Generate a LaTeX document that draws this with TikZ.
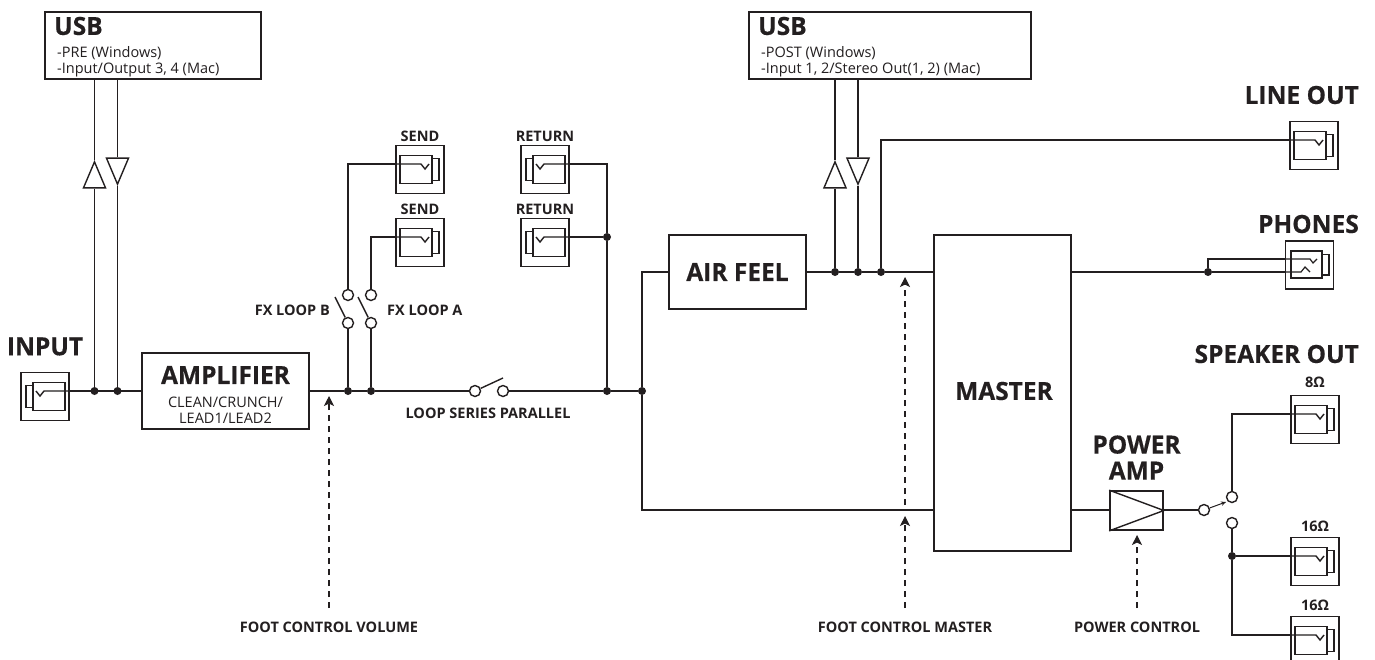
\documentclass[tikz,border=0pt]{standalone}
\usepackage{fontspec}
\setmainfont{Open Sans}
\newfontfamily\heavy{Open Sans}[FakeStretch=0.98, BoldFeatures={FakeBold=0.4}]
\usepackage{tikz}
\usetikzlibrary{shapes, arrows.meta, positioning}
\definecolor{ink}{HTML}{231F20}
\tikzstyle{block} = [draw=ink, line width=1.7pt, fill=white, rectangle, inner sep=0pt]
\tikzstyle{jackbox} = [block, minimum width=48pt, minimum height=48pt]
\tikzstyle{big} = [inner sep=0pt, text=ink, font=\fontsize{25}{29}\selectfont\heavy\bfseries, align=center]
\tikzstyle{tag} = [inner sep=0pt, text=ink, font=\fontsize{14.5}{15}\selectfont\bfseries]
\tikzstyle{plain} = [inner sep=0pt, text=ink, font=\fontsize{14.5}{16}\selectfont, align=left]
\tikzstyle{dot} = [circle, fill=ink, inner sep=0pt, minimum size=8pt]
\tikzstyle{ring} = [circle, draw=ink, line width=1.4pt, fill=white, inner sep=0pt, minimum size=11pt]
\tikzstyle{bufup} = [draw=ink, line width=1.4pt, fill=white, isosceles triangle, isosceles triangle stretches, shape border rotate=90, inner sep=0pt, minimum width=22pt, minimum height=26pt, anchor=apex]
\tikzstyle{bufdown} = [bufup, shape border rotate=270]
\tikzstyle{wire} = [draw=ink, line width=1.4pt]
\tikzstyle{ctrl} = [draw=ink, line width=1.1pt, dash pattern=on 6pt off 5pt, -{Stealth[length=10pt,width=10pt,inset=2.5pt]}]
% name, centre, 1 = plug on the left / -1 = plug on the right
\newcommand{\jack}[3]{
  \begin{scope}[shift={#2},xscale=#3]
    \node[jackbox] (#1) at (0,0) {};
    \coordinate (#1out) at (24,-5.5);
    \draw[ink, line width=1.6pt] (-12,-14) rectangle (20,14);
    \draw[ink, line width=1.4pt] (-12,-11) -- (-19,-11) -- (-19,11) -- (-12,11);
    \draw[ink, line width=1.4pt] (24,-5.5) -- (-1,-5.5) -- (-5,-0.5) -- (-9,-5.5);
  \end{scope}
}

\begin{document}
\begin{tikzpicture}[x=1pt,y=-1pt,>=latex]
  \useasboundingbox (0,0) rectangle (1375,659);
  \clip (0,0) rectangle (1375,659);

  % input side
  \jack{input}{(45,396.5)}{1}
  \node[big, above of=input, node distance=50pt] (inputlbl) {INPUT};
  \node[block, minimum width=167pt, minimum height=76pt] (amp) at (225.5,391) {};
  \node[big, above of=amp, node distance=16pt] (amplbl) {AMPLIFIER};
  \node[plain, align=center, below of=amp, node distance=19pt] (ampsub) {CLEAN/CRUNCH/\\LEAD1/LEAD2};
  \node[dot] (inj1) at (94.5,391) {};
  \node[dot] (inj2) at (117.5,391) {};

  % usb pre
  \node[block, minimum width=216pt, minimum height=67pt] (usbpre) at (153,45.5) {};
  \node[big, anchor=west] (usbprelbl) at (54,26) {USB};
  \node[plain, anchor=north west] (usbpretxt) at (57,46) {-PRE (Windows)\\-Input/Output 3, 4 (Mac)};
  \node[bufup] (preup) at (94.5,160) {};
  \node[bufdown] (predown) at (117.5,186) {};
  \draw[wire] (inj1) -- (preup.lower side);
  \draw[wire] (preup.apex) -- (preup.apex |- usbpre.south);
  \draw[wire] (inj2) -- (predown.apex);
  \draw[wire] (predown.lower side) -- (predown.lower side |- usbpre.south);
  \draw[wire] (inputout) -- (amp.west);

  % fx loop
  \node[dot] (loopb) at (348,391) {};
  \node[dot] (loopa) at (371,391) {};
  \node[ring] (ringbup) at (348,295) {};
  \node[ring] (ringaup) at (371,295) {};
  \node[ring] (ringblow) at (348,323) {};
  \node[ring] (ringalow) at (371,323) {};
  \coordinate (armb) at (335,297);
  \coordinate (arma) at (358,297);
  \draw[wire] (armb) -- (ringblow);
  \draw[wire] (arma) -- (ringalow);
  \node[tag, anchor=east] (fxblbl) at (330,310) {FX LOOP B};
  \node[tag, anchor=west] (fxalbl) at (387,310) {FX LOOP A};
  \jack{sendb}{(420,169.5)}{-1}
  \jack{senda}{(420,242.5)}{-1}
  \jack{returnb}{(545,169.5)}{1}
  \jack{returna}{(545,242.5)}{1}
  \node[tag, above of=sendb, node distance=33.5pt] (sendblbl) {SEND};
  \node[tag, above of=senda, node distance=33.5pt] (sendalbl) {SEND};
  \node[tag, above of=returnb, node distance=33.5pt] (returnblbl) {RETURN};
  \node[tag, above of=returna, node distance=33.5pt] (returnalbl) {RETURN};
  \draw[wire] (ringbup) |- (sendbout);
  \draw[wire] (ringaup) |- (sendaout);
  \draw[wire] (ringblow) -- (loopb);
  \draw[wire] (ringalow) -- (loopa);

  % series parallel
  \node[ring] (serleft) at (475,391) {};
  \node[ring] (serright) at (503,391) {};
  \coordinate (serarm) at (503,378);
  \node[tag, below of=serleft, node distance=22pt, xshift=13pt] (serlbl) {LOOP SERIES PARALLEL};
  \node[dot] (retj) at (607,391) {};
  \node[dot] (retk) at (607,237) {};
  \node[dot] (split) at (642,391) {};
  \draw[wire] (amp.east |- loopb) -- (loopb) -- (loopa) -- (serleft);
  \draw[wire] (serleft) -- (serarm);
  \draw[wire] (serright) -- (retj) -- (split);
  \draw[wire] (returnbout) -| (retk);
  \draw[wire] (returnaout) -- (retk) -- (retj);

  % air feel and master
  \node[block, minimum width=137pt, minimum height=74pt] (airfeel) at (737.5,272) {};
  \node[big] (airlbl) at (airfeel) {AIR FEEL};
  \node[block, minimum width=137pt, minimum height=316pt] (master) at (1002.5,393) {};
  \node[big] (masterlbl) at (1004,391) {MASTER};
  \node[dot] (postj1) at (835,272) {};
  \node[dot] (postj2) at (858,272) {};
  \node[dot] (postj3) at (881,272) {};
  \draw[wire] (split) |- (airfeel.west);
  \draw[wire] (airfeel.east) -- (postj1) -- (postj2) -- (postj3) -- (postj3 -| master.west);
  \coordinate (lowbus) at (934,510);
  \draw[wire] (split) |- (lowbus);

  % usb post
  \node[block, minimum width=282pt, minimum height=67pt] (usbpost) at (890,45.5) {};
  \node[big, anchor=west] (usbpostlbl) at (758,26) {USB};
  \node[plain, anchor=north west] (usbposttxt) at (761,46) {-POST (Windows)\\-Input 1, 2/Stereo Out(1, 2) (Mac)};
  \node[bufup] (postup) at (835,160) {};
  \node[bufdown] (postdown) at (858,186) {};
  \draw[wire] (postj1) -- (postup.lower side);
  \draw[wire] (postup.apex) -- (postup.apex |- usbpost.south);
  \draw[wire] (postj2) -- (postdown.apex);
  \draw[wire] (postdown.lower side) -- (postdown.lower side |- usbpost.south);

  % line out and phones
  \jack{lineout}{(1314,145.5)}{-1}
  \node[big, anchor=east] (lineoutlbl) at (1359,95) {LINE OUT};
  \draw[wire] (postj3) |- (lineoutout);
  \node[jackbox] (phones) at (1309.5,265) {};
  \node[big, anchor=east] (phoneslbl) at (1359,224) {PHONES};
  \draw[ink, line width=1.6pt] (1291,251) rectangle (1322,278);
  \draw[ink, line width=1.4pt] (1322,254.5) -- (1329,254.5) -- (1329,275) -- (1322,275);
  \draw[ink, line width=1.2pt] (1285.5,259) -- (1310,259) -- (1313,263) -- (1317,259);
  \draw[ink, line width=1.2pt] (1285.5,272) -- (1301,272) -- (1305,267) -- (1310,272);
  \node[dot] (phonesj) at (1208,272) {};
  \coordinate (phonesup) at (1285.5,259);
  \coordinate (phoneslow) at (1285.5,272);
  \draw[wire] (master.east |- phonesj) -- (phonesj) -- (phoneslow);
  \draw[wire] (phonesj) |- (phonesup);

  % power amp and speakers
  \node[block, minimum width=53pt, minimum height=39pt] (power) at (1136.5,510.5) {};
  \draw[ink, line width=1.4pt] (power.north west) -- (power.east) -- (power.south west);
  \node[big, above of=power, node distance=53pt] (powerlbl) {POWER\\[-3pt]AMP};
  \draw[wire] (lowbus -| master.east) -- (power.west |- lowbus);
  \node[ring] (spkfrom) at (1204,510) {};
  \node[ring] (spkhigh) at (1232,497) {};
  \node[ring] (spklow) at (1232,523) {};
  \node[dot] (spkj) at (1232,556) {};
  \draw[wire] (power.east |- spkfrom) -- (spkfrom);
  \coordinate (spkarm) at (1226,502);
  \draw[wire, line width=1pt, -{Stealth[length=5pt,width=4.5pt]}] (spkfrom) -- (spkarm);
  \jack{speakera}{(1315,419.5)}{-1}
  \jack{speakerb}{(1315,561.5)}{-1}
  \jack{speakerc}{(1315,640.5)}{-1}
  \node[big, anchor=east] (speakerlbl) at (1359,354) {SPEAKER OUT};
  \node[tag, above of=speakera, node distance=37pt] (ohmalbl) {8Ω};
  \node[tag, above of=speakerb, node distance=35.5pt] (ohmblbl) {16Ω};
  \node[tag, above of=speakerc, node distance=35.5pt] (ohmclbl) {16Ω};
  \draw[wire] (spkhigh) |- (speakeraout);
  \draw[wire] (spklow) -- (spkj) -- (speakerbout);
  \draw[wire] (spkj) |- (speakercout);

  % foot controls
  \node[tag] (volumelbl) at (329,627) {FOOT CONTROL VOLUME};
  \node[tag] (masterctl) at (905,627) {FOOT CONTROL MASTER};
  \node[tag] (powerctl) at (1137,627) {POWER CONTROL};
  \coordinate (volumeend) at (329,608);
  \coordinate (volumetip) at (329,396);
  \coordinate (masterend) at (905,608);
  \coordinate (mastertip) at (905,516);
  \coordinate (feelend) at (905,505);
  \coordinate (feeltip) at (905,277);
  \coordinate (powerend) at (1137,608);
  \coordinate (powertip) at (1137,535);
  \draw[ctrl] (volumeend) -- (volumetip);
  \draw[ctrl] (masterend) -- (mastertip);
  \draw[ctrl] (feelend) -- (feeltip);
  \draw[ctrl] (powerend) -- (powertip);
\end{tikzpicture}
\end{document}
